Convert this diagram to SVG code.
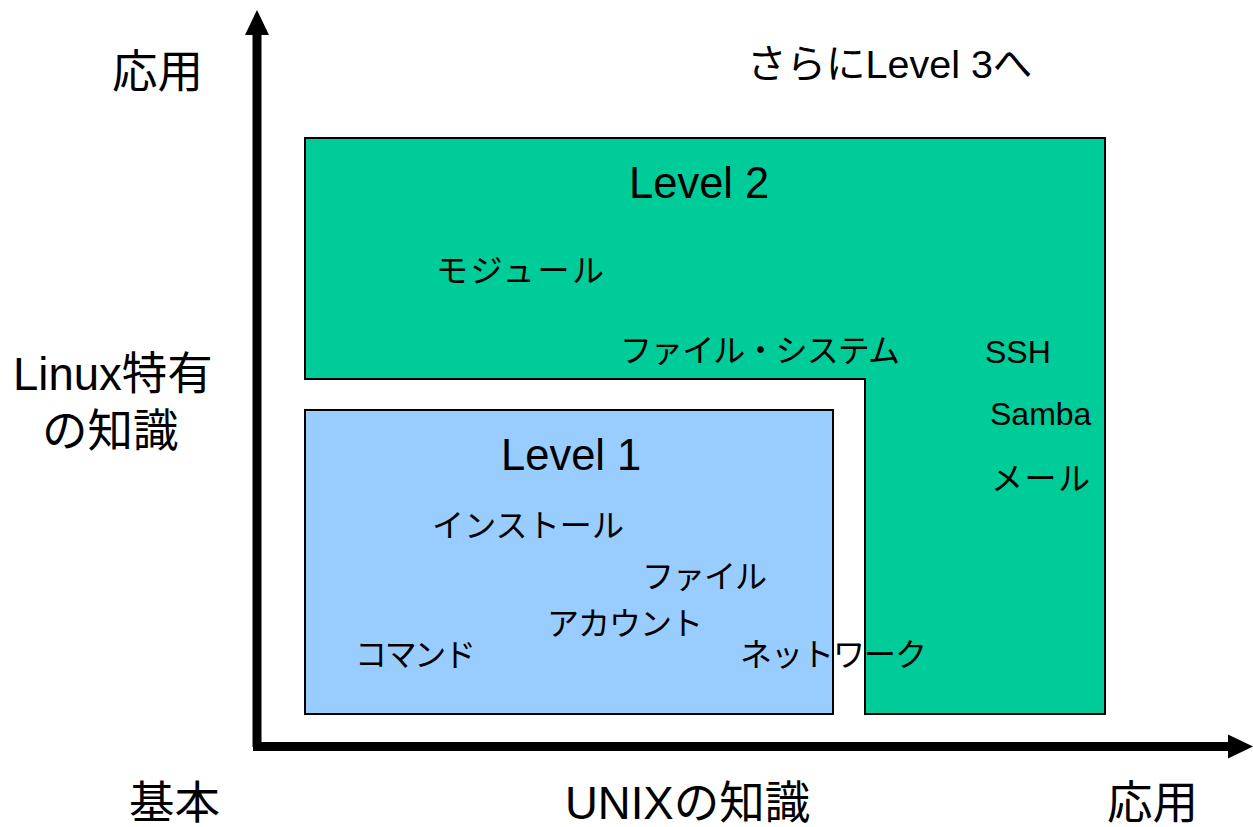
<svg xmlns="http://www.w3.org/2000/svg" width="1253" height="827" viewBox="0 0 1253 827">
<style>
text{font-family:"Liberation Sans","Noto Sans CJK JP",sans-serif;fill:#000}
.ax{font-size:45.5px}
.lv{font-size:43.5px}
.it{font-size:32px}
.box{stroke:#000;stroke-width:2}
</style>
<defs>
<marker id="ah" markerUnits="userSpaceOnUse" markerWidth="26" markerHeight="26" refX="1" refY="12" orient="auto" viewBox="0 0 26 24">
<path d="M0,0 L25,12 L0,24 Z" fill="#000"/>
</marker>
</defs>
<rect width="1253" height="827" fill="#fff"/>
<g id="level2">
<path class="box" d="M305,138 H1105 V714 H865 V379 H305 Z" fill="#00CC99"/>
<text class="lv" x="629" y="198">Level 2</text>
<text class="it" x="436" y="282" textLength="168" lengthAdjust="spacing">モジュール</text>
<text class="it" x="620" y="362" textLength="280" lengthAdjust="spacing">ファイル・システム</text>
<text class="it" x="985" y="363">SSH</text>
<text class="it" x="990" y="425">Samba</text>
<text class="it" x="991" y="490" textLength="99" lengthAdjust="spacing">メール</text>
</g>
<g id="level1">
<rect class="box" x="305" y="410" width="528" height="304" fill="#99CCFF"/>
<text class="lv" x="501" y="470">Level 1</text>
<text class="it" x="432" y="537" textLength="192" lengthAdjust="spacing">インストール</text>
<text class="it" x="642" y="588" textLength="125" lengthAdjust="spacing">ファイル</text>
<text class="it" x="547" y="635" textLength="156" lengthAdjust="spacing">アカウント</text>
<text class="it" x="355" y="666" textLength="121" lengthAdjust="spacing">コマンド</text>
<text class="it" x="740" y="666" textLength="187" lengthAdjust="spacing">ネットワーク</text>
</g>
<g id="connectors">
<path d="M257,747 V34" stroke="#000" stroke-width="9" fill="none" marker-end="url(#ah)"/>
<path d="M253,746.5 H1229" stroke="#000" stroke-width="9" fill="none" marker-end="url(#ah)"/>
</g>
<g id="labels">
<text class="ax" x="112" y="88">応用</text>
<text class="ax" x="13" y="390">Linux特有</text>
<text class="ax" x="42" y="447">の知識</text>
<text class="ax" x="129" y="819">基本</text>
<text class="ax" x="565" y="819">UNIXの知識</text>
<text class="ax" x="1107" y="819">応用</text>
<text style="font-size:39.5px" x="747" y="78">さらにLevel 3へ</text>
</g>
</svg>
